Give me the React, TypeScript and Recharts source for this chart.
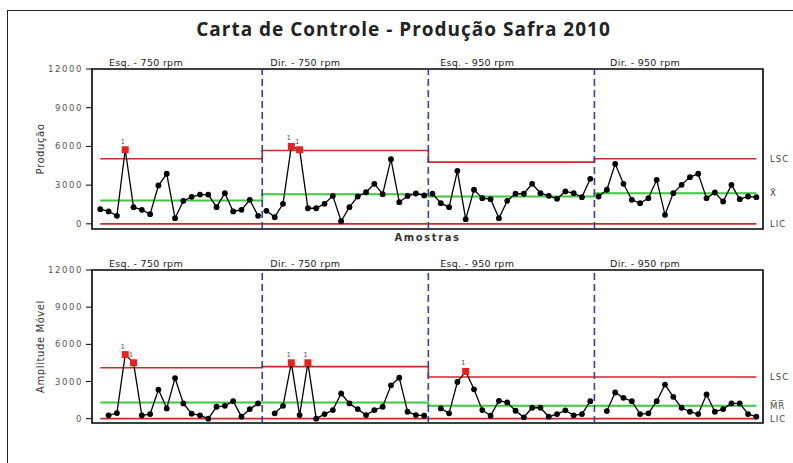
import React from 'react';
import { LineChart, Line, XAxis, YAxis, ReferenceLine, ReferenceArea } from 'recharts';

const ESTAGIOS = ['Esq. - 750 rpm', 'Dir. - 750 rpm', 'Esq. - 950 rpm', 'Dir. - 950 rpm'];
const TAMANHO_ESTAGIO = [20, 20, 20, 20];
const POS_ROTULO_ESTAGIO = [2, 21, 41, 61];
const DIVISOES = [20.5, 40.5, 60.5];

const PRODUCAO = [
  1140, 960, 620, 5740, 1290, 1085, 750, 2970, 3880, 440, 1780, 2090, 2270, 2270, 1290, 2380, 960, 1085, 1860, 620,
  1010, 520, 1550, 6000, 5740, 1210, 1210, 1550, 2170, 200, 1290, 2120, 2450, 3100, 2300, 5010, 1680, 2160, 2350, 2200,
  2330, 1600, 1290, 4110, 360, 2640, 1990, 1910, 440, 1780, 2330, 2330, 3100, 2380, 2170, 1940, 2510, 2380, 2070, 3490,
  2120, 2640, 4650, 3100, 1860, 1600, 1990, 3410, 700, 2380, 3020, 3620, 3880, 1990, 2430, 1730, 3020, 1910, 2120, 2070,
];

const AMPLITUDE: (number | null)[] = [
  null, 270, 450, 5170, 4510, 270, 370, 2350, 830, 3280, 1230, 400, 270, 0, 960, 1040, 1410, 160, 770, 1230,
  null, 430, 1040, 4510, 290, 4510, 0, 370, 690, 2030, 1230, 770, 290, 690, 960, 2690, 3310, 560, 290, 240,
  null, 830, 430, 2960, 3810, 2370, 690, 240, 1440, 1310, 640, 110, 880, 880, 160, 370, 670, 270, 370, 1410,
  null, 610, 2110, 1680, 1410, 370, 430, 1410, 2750, 1760, 880, 560, 370, 1950, 560, 770, 1230, 1230, 370, 160,
];

// limites por estagio
const I_LSC = [5040, 5680, 4780, 5040];
const I_MEDIA = [1810, 2300, 2120, 2380];
const I_LIC = [0, 0, 0, 0];
const MR_LSC = [4110, 4200, 3360, 3360];
const MR_MEDIA = [1300, 1300, 1040, 1040];
const MR_LIC = [0, 0, 0, 0];

// amostras fora de controle (teste 1)
const I_FORA = [4, 24, 25];
const MR_FORA = [4, 5, 24, 26, 45];

const Y_TICKS = [0, 3000, 6000, 9000, 12000];

const VERMELHO = '#d02828';
const VERDE = '#3cc83c';
const AZUL = '#2f3fae';
const FONTE = '"DejaVu Sans", sans-serif';

function estagioDe(i: number) {
  let acc = 0;
  for (let k = 0; k < TAMANHO_ESTAGIO.length; k++) {
    acc += TAMANHO_ESTAGIO[k];
    if (i < acc) return k;
  }
  return TAMANHO_ESTAGIO.length - 1;
}

function montar(valores: (number | null)[], lsc: number[], media: number[], lic: number[]) {
  return valores.map((v, i) => {
    const s = estagioDe(i);
    const row: any = { amostra: i + 1, lsc: lsc[s], media: media[s], lic: lic[s] };
    ESTAGIOS.forEach((_, k) => {
      row['s' + k] = k === s ? v : null;
    });
    return row;
  });
}

const dadosI = montar(PRODUCAO, I_LSC, I_MEDIA, I_LIC);
const dadosMR = montar(AMPLITUDE, MR_LSC, MR_MEDIA, MR_LIC);

const ponto = (fora: number[]) => (props: any) => {
  const { cx, cy, payload, value, index } = props;
  if (value == null || cx == null || cy == null) return <g key={index} />;
  if (fora.includes(payload.amostra)) {
    return (
      <g key={index}>
        <rect x={cx - 3.5} y={cy - 3.5} width={7} height={7} fill="#e8211f" />
        <text x={cx - 2.5} y={cy - 6} fontSize={7} fill="#555" textAnchor="middle" fontFamily={FONTE}>1</text>
      </g>
    );
  }
  return <circle key={index} cx={cx} cy={cy} r={2.9} fill="#000" />;
};

const RotuloEstagio = (props: any) => {
  const { x, y, index } = props;
  return (
    <text x={x} y={y} fontSize={9.5} fill="#1a1a1a" fontFamily={FONTE} letterSpacing={0.3} textAnchor="start">
      {ESTAGIOS[index]}
    </text>
  );
};

const tickY = { fontSize: 8.5, fill: '#555', fontFamily: FONTE, letterSpacing: 1.6 };
const rotuloDir = { fontSize: 8.5, fill: '#444', fontFamily: FONTE, letterSpacing: 1 };

function Carta(props: {
  dados: any[];
  fora: number[];
  lsc: number[];
  media: number[];
  lic: number[];
  yDomain: [number, number];
  titulo: string;
  centro: string;
  altura: number;
  margem: { top: number; right: number; bottom: number; left: number };
  eixoX?: string;
}) {
  const { dados, fora, lsc, media, lic, yDomain, titulo, centro, altura, margem, eixoX } = props;
  const ult = ESTAGIOS.length - 1;
  return (
    <LineChart width={793} height={altura} data={dados} margin={margem}>
      <XAxis
        dataKey="amostra"
        type="number"
        domain={[0, 80.8]}
        tick={false}
        axisLine={false}
        tickLine={false}
        hide={!eixoX}
        height={21}
        label={
          eixoX
            ? { value: eixoX, position: 'insideTop', offset: 5, fontSize: 10, fontWeight: 'bold', fill: '#333', fontFamily: FONTE, letterSpacing: 1.6 }
            : undefined
        }
      />
      <XAxis
        xAxisId="estagio"
        orientation="top"
        type="number"
        domain={[0, 80.8]}
        ticks={POS_ROTULO_ESTAGIO}
        tick={<RotuloEstagio />}
        axisLine={false}
        tickLine={false}
        tickSize={0}
        tickMargin={3}
        height={18}
      />
      <YAxis
        type="number"
        domain={yDomain}
        ticks={Y_TICKS}
        width={70}
        axisLine={false}
        tickSize={6}
        tickMargin={3}
        tickLine={{ stroke: '#000' }}
        tick={tickY}
        interval={0}
        label={{ value: titulo, angle: -90, position: 'insideLeft', offset: 18, style: { textAnchor: 'middle' }, fontSize: 10, fill: '#333', fontFamily: FONTE, letterSpacing: 0.6 }}
      />
      <ReferenceArea x1={0} x2={80.8} y1={yDomain[0]} y2={yDomain[1]} fill="none" stroke="#000" strokeWidth={1.6} />
      <Line dataKey="lic" type="step" stroke={VERMELHO} strokeWidth={1.6} dot={false} isAnimationActive={false} />
      <Line dataKey="media" type="step" stroke={VERDE} strokeWidth={2} dot={false} isAnimationActive={false} />
      <Line dataKey="lsc" type="step" stroke={VERMELHO} strokeWidth={1.6} dot={false} isAnimationActive={false} />
      {DIVISOES.map((d) => (
        <ReferenceLine key={d} x={d} stroke={AZUL} strokeWidth={1.6} strokeDasharray="7 4" />
      ))}
      {ESTAGIOS.map((_, k) => (
        <Line
          key={k}
          dataKey={'s' + k}
          type="linear"
          stroke="#000"
          strokeWidth={1.3}
          dot={ponto(fora)}
          connectNulls={false}
          isAnimationActive={false}
        />
      ))}
      <ReferenceLine y={lsc[ult]} stroke="none" label={{ value: 'LSC', position: 'right', offset: 7, ...rotuloDir }} />
      <ReferenceLine y={media[ult]} stroke="none" label={{ value: centro, position: 'right', offset: 7, ...rotuloDir }} />
      <ReferenceLine y={lic[ult]} stroke="none" label={{ value: 'LIC', position: 'right', offset: 7, ...rotuloDir }} />
    </LineChart>
  );
}

export default function App() {
  return (
    <div style={{ position: 'fixed', left: 0, top: 0, width: 793, height: 463, overflow: 'hidden', background: '#fff' }}>
      <div
        style={{
          position: 'absolute',
          left: 7,
          top: 10,
          width: 820,
          height: 480,
          borderLeft: '1px solid #222',
          borderTop: '1px solid #222',
        }}
      />
      <div
        style={{
          position: 'absolute',
          left: 0,
          top: 16,
          width: 807,
          textAlign: 'center',
          fontFamily: '"Open Sans", sans-serif',
          fontWeight: 700,
          fontSize: 19,
          letterSpacing: 1,
          lineHeight: '26px',
          color: '#222',
        }}
      >
        Carta de Controle - Produção Safra 2010
      </div>
      <div style={{ position: 'absolute', left: 0, top: 0 }}>
        <Carta
          dados={dadosI}
          fora={I_FORA}
          lsc={I_LSC}
          media={I_MEDIA}
          lic={I_LIC}
          yDomain={[-400, 12000]}
          titulo="Produção"
          centro="X̄"
          altura={250}
          margem={{ top: 51, right: 30, bottom: 0, left: 22 }}
          eixoX="Amostras"
        />
      </div>
      <div style={{ position: 'absolute', left: 0, top: 250 }}>
        <Carta
          dados={dadosMR}
          fora={MR_FORA}
          lsc={MR_LSC}
          media={MR_MEDIA}
          lic={MR_LIC}
          yDomain={[-350, 12000]}
          titulo="Amplitude Móvel"
          centro="M̅R̅"
          altura={213}
          margem={{ top: 2, right: 30, bottom: 40, left: 22 }}
        />
      </div>
    </div>
  );
}
